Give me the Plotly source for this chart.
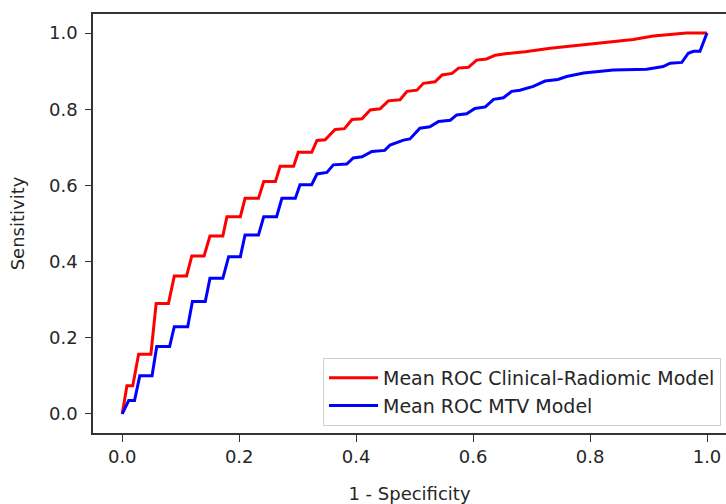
import plotly.graph_objects as go

# Mean ROC Clinical-Radiomic Model
fpr_cr = [0.0, 0.008, 0.018, 0.028, 0.049, 0.058, 0.079, 0.089, 0.110, 0.119, 0.140, 0.150, 0.172,
          0.179, 0.202, 0.210, 0.233, 0.242, 0.262, 0.270, 0.293, 0.301, 0.324, 0.333, 0.347,
          0.364, 0.380, 0.393, 0.410, 0.424, 0.441, 0.455, 0.475, 0.487, 0.504, 0.515, 0.535,
          0.547, 0.564, 0.575, 0.592, 0.606, 0.623, 0.638, 0.658, 0.680, 0.689, 0.732, 0.789,
          0.846, 0.874, 0.908, 0.937, 0.965, 1.0]
tpr_cr = [0.0, 0.074, 0.074, 0.157, 0.157, 0.290, 0.290, 0.362, 0.362, 0.415, 0.415, 0.467, 0.467,
          0.518, 0.518, 0.566, 0.566, 0.610, 0.610, 0.650, 0.650, 0.687, 0.687, 0.718, 0.720,
          0.747, 0.749, 0.773, 0.775, 0.798, 0.801, 0.822, 0.825, 0.847, 0.850, 0.868, 0.872,
          0.890, 0.894, 0.908, 0.910, 0.929, 0.932, 0.942, 0.946, 0.949, 0.951, 0.960, 0.969,
          0.977, 0.983, 0.992, 0.997, 1.0, 1.0]

# Mean ROC MTV Model
fpr_mtv = [0.0, 0.011, 0.021, 0.030, 0.051, 0.059, 0.081, 0.089, 0.112, 0.120, 0.142, 0.150, 0.172,
           0.182, 0.202, 0.210, 0.233, 0.242, 0.264, 0.273, 0.296, 0.304, 0.324, 0.333, 0.350,
           0.361, 0.384, 0.395, 0.410, 0.427, 0.449, 0.458, 0.481, 0.492, 0.509, 0.526, 0.541,
           0.561, 0.572, 0.589, 0.603, 0.621, 0.635, 0.652, 0.666, 0.680, 0.703, 0.723, 0.745,
           0.760, 0.789, 0.817, 0.840, 0.897, 0.925, 0.937, 0.957, 0.968, 0.977, 0.988, 1.0]
tpr_mtv = [0.0, 0.035, 0.035, 0.100, 0.100, 0.177, 0.177, 0.229, 0.229, 0.295, 0.295, 0.356, 0.356,
           0.413, 0.413, 0.470, 0.470, 0.518, 0.518, 0.566, 0.566, 0.602, 0.602, 0.630, 0.634,
           0.654, 0.656, 0.672, 0.675, 0.689, 0.692, 0.706, 0.719, 0.722, 0.750, 0.754, 0.768,
           0.771, 0.785, 0.788, 0.802, 0.806, 0.826, 0.830, 0.847, 0.850, 0.860, 0.874, 0.878,
           0.886, 0.895, 0.899, 0.903, 0.905, 0.912, 0.921, 0.923, 0.947, 0.952, 0.952, 1.0]

x_ticks = [0.0, 0.2, 0.4, 0.6, 0.8, 1.0]
y_ticks = [0.0, 0.2, 0.4, 0.6, 0.8, 1.0]
tick_text = ["0.0", "0.2", "0.4", "0.6", "0.8", "1.0"]

fig = go.Figure()
fig.add_trace(go.Scatter(x=fpr_cr, y=tpr_cr, mode="lines", name="Mean ROC Clinical-Radiomic Model",
                         line=dict(color="#ff0000", width=3)))
fig.add_trace(go.Scatter(x=fpr_mtv, y=tpr_mtv, mode="lines", name="Mean ROC MTV Model",
                         line=dict(color="#0000ff", width=3)))

font_family = "DejaVu Sans"
fig.update_layout(
    width=726, height=504,
    margin=dict(l=93, r=0, t=14, b=71, autoexpand=False),
    paper_bgcolor="white", plot_bgcolor="white",
    font=dict(family=font_family, size=18, color="#262626"),
    showlegend=True,
    legend=dict(x=(323 - 93) / 633, y=(433 - 358) / 419, xanchor="left", yanchor="top",
                bgcolor="rgba(255,255,255,0.85)", bordercolor="#d0d0d0", borderwidth=1,
                itemwidth=49,
                font=dict(size=19, color="#262626"), tracegroupgap=0),
    xaxis=dict(range=[-0.05, 1.0325], tickvals=x_ticks, ticktext=tick_text,
               showgrid=False, zeroline=False, showline=True, linecolor="#333333", linewidth=1.5,
               mirror=True, ticks="outside", ticklen=7, tickwidth=1.2, tickcolor="#333333",
               title=dict(text="1 - Specificity", font=dict(size=18), standoff=22)),
    yaxis=dict(range=[-0.05, 1.05], tickvals=y_ticks, ticktext=tick_text,
               showgrid=False, zeroline=False, showline=True, linecolor="#333333", linewidth=1.5,
               mirror=False, ticks="outside", ticklen=6, tickwidth=1.2, tickcolor="#333333",
               ticklabelstandoff=4,
               title=dict(text="Sensitivity", font=dict(size=18), standoff=20)),
)
fig.write_html(
    "out.html",
    config={"displayModeBar": False},
    post_script="document.body.style.margin='0';document.body.style.overflow='hidden';",
)
